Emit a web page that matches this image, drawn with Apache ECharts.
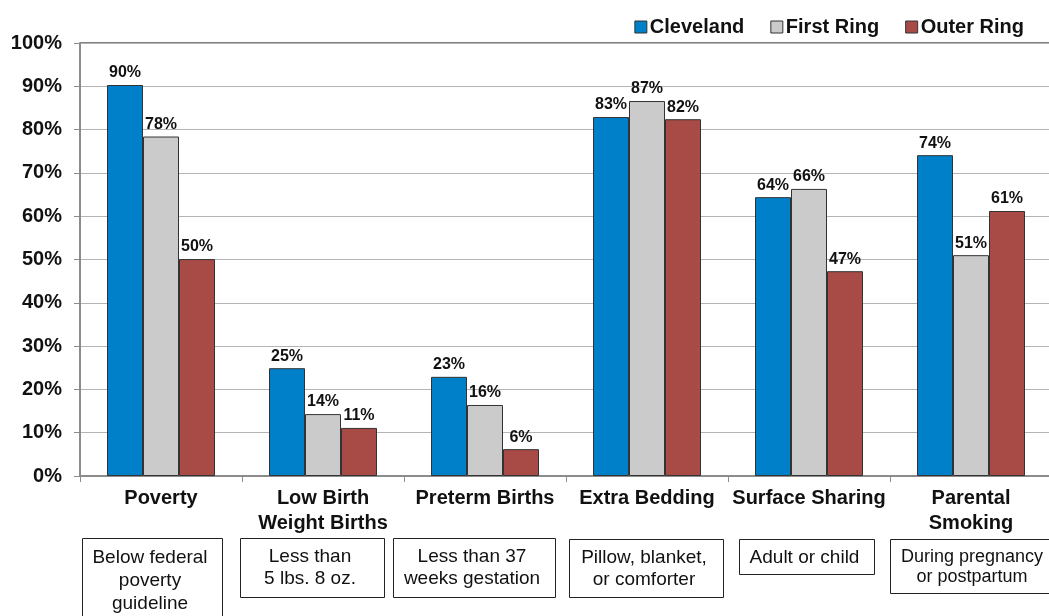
<!DOCTYPE html>
<html>
<head>
<meta charset="utf-8">
<script src="https://cdn.jsdelivr.net/npm/echarts@6/dist/echarts.min.js"></script>
<style>
  html, body { margin: 0; padding: 0; background: #fff; }
  #chart { width: 1049px; height: 616px; }
</style>
</head>
<body>
<div id="chart"></div>
<script>
// categories and values (percent)
const categories = ['Poverty', 'Low Birth\nWeight Births', 'Preterm Births', 'Extra Bedding', 'Surface Sharing', 'Parental\nSmoking'];
const descriptions = ['Below federal\npoverty\nguideline', 'Less than\n5 lbs. 8 oz.', 'Less than 37\nweeks gestation', 'Pillow, blanket,\nor comforter', 'Adult or child', 'During pregnancy\nor postpartum'];
const seriesNames = ['Cleveland', 'First Ring', 'Outer Ring'];
const cleveland = [90.3, 24.9, 22.9, 82.9, 64.4, 74.1];
const firstRing = [78.4, 14.3, 16.4, 86.6, 66.3, 51.0];
const outerRing = [50.1, 11.1, 6.2, 82.4, 47.3, 61.2];
const yTicks = [0, 10, 20, 30, 40, 50, 60, 70, 80, 90, 100];

const colors = ['#0080c8', '#cbcbcb', '#a84a45'];
const font = 'Liberation Sans, Arial, sans-serif';

// description boxes under the axis (layout only)
const boxLayout = [
  { x: 82, y: 538, w: 140, h: 90, lh: 23, fs: 19 },
  { x: 240, y: 538, w: 144, h: 59, lh: 22, fs: 19 },
  { x: 393, y: 538, w: 162, h: 59, lh: 22, fs: 19 },
  { x: 569, y: 539, w: 154, h: 58, lh: 22, fs: 19 },
  { x: 739, y: 539, w: 135, h: 35, lh: 22, fs: 19 },
  { x: 890, y: 539, w: 168, h: 54, lh: 20, fs: 18 }
];

const chart = echarts.init(document.getElementById('chart'));

const makeSeries = (name, data, i) => ({
  name: name,
  type: 'bar',
  data: data,
  barWidth: 36,
  barGap: '0%',
  itemStyle: { color: colors[i], borderColor: '#333', borderWidth: 1 },
  label: {
    show: true,
    position: 'top',
    distance: 4,
    fontFamily: font,
    fontWeight: 'bold',
    fontSize: 16,
    color: '#111',
    formatter: p => Math.round(p.value) + '%'
  }
});

const graphics = boxLayout.map((b, i) => ({
  type: 'group',
  children: [
    {
      type: 'rect',
      shape: { x: b.x + 0.5, y: b.y + 0.5, width: b.w, height: b.h },
      style: { fill: '#fff', stroke: '#222', lineWidth: 1 }
    },
    {
      type: 'text',
      x: b.x + b.w / 2 - 2,
      y: b.y + 8,
      style: {
        text: descriptions[i],
        fill: '#111',
        font: b.fs + 'px ' + font,
        align: 'center',
        verticalAlign: 'top',
        lineHeight: b.lh
      }
    }
  ]
}));

const option = {
  animation: false,
  backgroundColor: '#fff',
  legend: {
    right: 20,
    top: 12,
    itemWidth: 12,
    itemHeight: 12,
    itemGap: 26,
    icon: 'rect',
    data: seriesNames.map((n, i) => ({
      name: n,
      itemStyle: { color: colors[i], borderColor: '#333', borderWidth: 1 }
    })),
    textStyle: { fontFamily: font, fontWeight: 'bold', fontSize: 20, color: '#111', padding: [0, 0, 0, -2] }
  },
  grid: {
    left: 80,
    right: -3,
    top: 43,
    bottom: 140,
    show: true,
    borderColor: '#000',
    borderWidth: 1,
    outerBoundsMode: 'none'
  },
  xAxis: {
    type: 'category',
    data: categories,
    axisLine: { lineStyle: { color: '#8c8c8c', width: 2 } },
    axisTick: { show: true, length: 6, lineStyle: { color: '#8c8c8c' } },
    axisLabel: {
      fontFamily: font,
      fontWeight: 'bold',
      fontSize: 20,
      color: '#111',
      lineHeight: 25,
      margin: 10,
      interval: 0
    }
  },
  yAxis: {
    type: 'value',
    min: 0,
    max: 100,
    interval: 10,
    axisLine: { show: true, lineStyle: { color: '#8c8c8c', width: 2 } },
    axisTick: { show: true, length: 6, lineStyle: { color: '#8c8c8c' } },
    splitLine: { lineStyle: { color: '#b4b4b4', width: 1 } },
    axisLabel: {
      fontFamily: font,
      fontWeight: 'bold',
      fontSize: 20,
      color: '#111',
      margin: 18,
      formatter: v => (yTicks.includes(v) ? v + '%' : '')
    }
  },
  series: [
    makeSeries(seriesNames[0], cleveland, 0),
    makeSeries(seriesNames[1], firstRing, 1),
    makeSeries(seriesNames[2], outerRing, 2)
  ],
  graphic: graphics
};

chart.setOption(option);
</script>
</body>
</html>
